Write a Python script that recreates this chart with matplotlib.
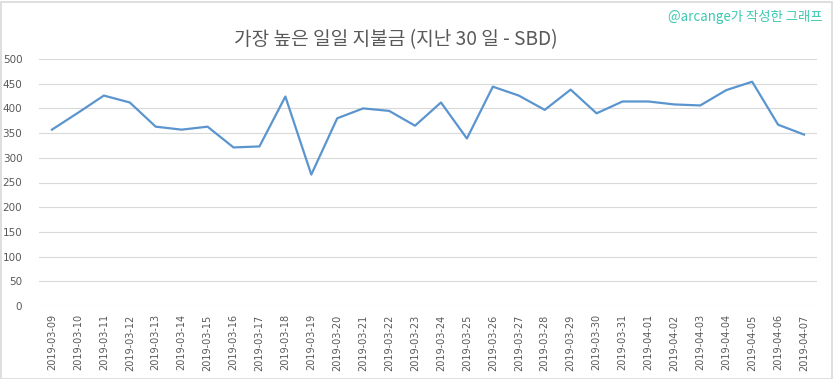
import matplotlib
matplotlib.use("Agg")
import matplotlib.pyplot as plt
from matplotlib.patches import Rectangle

dates = ["2019-03-09", "2019-03-10", "2019-03-11", "2019-03-12", "2019-03-13",
         "2019-03-14", "2019-03-15", "2019-03-16", "2019-03-17", "2019-03-18",
         "2019-03-19", "2019-03-20", "2019-03-21", "2019-03-22", "2019-03-23",
         "2019-03-24", "2019-03-25", "2019-03-26", "2019-03-27", "2019-03-28",
         "2019-03-29", "2019-03-30", "2019-03-31", "2019-04-01", "2019-04-02",
         "2019-04-03", "2019-04-04", "2019-04-05", "2019-04-06", "2019-04-07"]
values = [357, 391, 426, 412, 363, 357, 363, 321, 323, 424,
          266, 380, 400, 395, 365, 412, 339, 444, 426, 397,
          438, 390, 414, 414, 408, 406, 437, 454, 367, 347]
yticks = [0, 50, 100, 150, 200, 250, 300, 350, 400, 450, 500]

title = "가장 높은 일일 지불금 (지난 30 일 - SBD)"
credit = "@arcange가 작성한 그래프"

plt.rcParams['font.family'] = ['Noto Sans CJK KR', 'DejaVu Sans']

W, H = 833, 379
fig = plt.figure(figsize=(W / 100, H / 100), dpi=100)
fig.patch.set_facecolor("white")
fig.patches.append(Rectangle((0.5 / W, 0.5 / H), 1 - 2 / W, 1 - 2 / H,
                             transform=fig.transFigure, fill=False,
                             edgecolor="#d9d9d9", linewidth=1.2))

ax = fig.add_axes([39 / W, 1 - 306 / H, (817 - 39) / W, (306 - 59) / H])
x = list(range(len(dates)))
ax.plot(x, values, color="#5b95cf", linewidth=1.6, solid_joinstyle="round")
ax.set_xlim(-0.5, len(dates) - 0.5)
ax.set_ylim(0, 500)
ax.set_yticks(yticks)
ax.set_xticks(x)
ax.set_xticklabels(dates, rotation=90, fontsize=7, color="#595959",
                   family=['DejaVu Sans'])
ax.set_yticklabels([str(v) for v in yticks], fontsize=7.5, color="#595959",
                   family=['DejaVu Sans'])
ax.tick_params(length=0, pad=6)
ax.tick_params(axis='y', pad=12)
ax.grid(axis='y', color="#d9d9d9", linewidth=0.8)
ax.set_axisbelow(True)
for s in ax.spines.values():
    s.set_visible(False)

fig.text(396 / W, 1 - 40 / H, title, ha="center", va="center",
         fontsize=13.8, color="#595959")
fig.text(822 / W, 1 - 17 / H, credit, ha="right", va="center",
         fontsize=9.6, color="#3cc9b0")

fig.savefig("out.png", dpi=100)
